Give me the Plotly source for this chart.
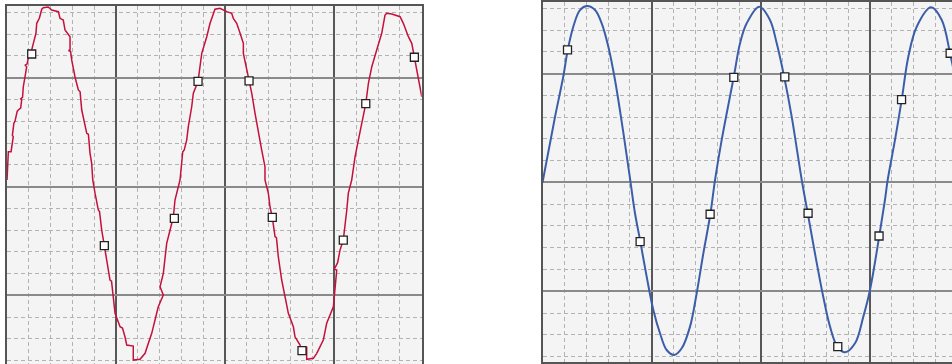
import plotly.graph_objects as go

# ---- data ----
# noisy measured signal (left panel)
red_t = [0.003, 0.012, 0.015, 0.040, 0.060, 0.052, 0.066, 0.076, 0.096, 0.106, 0.128, 0.137, 0.128, 0.145,
         0.152, 0.168, 0.183, 0.170, 0.186, 0.198, 0.229, 0.244, 0.268, 0.275, 0.299, 0.321, 0.335, 0.380,
         0.412, 0.473, 0.488, 0.518, 0.534, 0.580, 0.580, 0.566, 0.585, 0.595, 0.625, 0.656, 0.672, 0.687,
         0.733, 0.748, 0.763, 0.778, 0.788, 0.809, 0.839, 0.850, 0.870, 0.894, 0.916, 0.946, 0.960, 0.976,
         0.992, 1.038, 1.060, 1.083, 1.099, 1.159, 1.159, 1.221, 1.267, 1.297, 1.328, 1.358, 1.388, 1.434,
         1.404, 1.434, 1.450, 1.465, 1.496, 1.526, 1.541, 1.587, 1.612, 1.625, 1.648, 1.663, 1.694, 1.709,
         1.752, 1.770, 1.786, 1.832, 1.862, 1.907, 1.952, 2.015, 2.060, 2.075, 2.106, 2.137, 2.167, 2.167,
         2.198, 2.219, 2.244, 2.274, 2.304, 2.335, 2.365, 2.365, 2.396, 2.411, 2.432, 2.457, 2.470, 2.487,
         2.518, 2.548, 2.579, 2.625, 2.640, 2.686, 2.704, 2.747, 2.747, 2.808, 2.839, 2.899, 2.930,
         2.991, 3.006, 3.022, 3.000, 3.030, 3.052, 3.082, 3.114, 3.128, 3.159, 3.190, 3.220, 3.251,
         3.288, 3.312, 3.343, 3.388, 3.434, 3.464, 3.480, 3.526, 3.602, 3.632, 3.678, 3.709, 3.733,
         3.755, 3.786, 3.801]
red_v = [0.060, 0.200, 0.320, 0.320, 0.458, 0.470, 0.584, 0.600, 0.690, 0.703, 0.720, 0.795, 0.806, 0.820,
         0.917, 1.009, 1.101, 1.115, 1.125, 1.178, 1.255, 1.316, 1.408, 1.500, 1.546, 1.629, 1.643, 1.650,
         1.622, 1.607, 1.546, 1.530, 1.438, 1.377, 1.255, 1.250, 1.240, 1.163, 1.009, 0.887, 0.870, 0.703,
         0.489, 0.480, 0.305, 0.213, 0.060, -0.063, -0.216, -0.230, -0.400, -0.544, -0.676, -0.859, -0.870,
         -1.013, -1.165, -1.289, -1.300, -1.381, -1.457, -1.466, -1.595, -1.588, -1.533, -1.441, -1.349,
         -1.227, -1.105, -0.997, -0.921, -0.798, -0.645, -0.522, -0.400, -0.278, -0.124, 0.060, 0.320,
         0.335, 0.427, 0.550, 0.733, 0.857, 0.967, 1.101, 1.224, 1.377, 1.500, 1.629, 1.638, 1.607, 1.592,
         1.546, 1.500, 1.408, 1.316, 1.224, 1.071, 0.970, 0.857, 0.673, 0.489, 0.335, 0.182, 0.060, -0.063,
         -0.186, -0.283, -0.461, -0.470, -0.645, -0.859, -1.013, -1.165, -1.289, -1.381, -1.457, -1.509,
         -1.472, -1.588, -1.579, -1.533, -1.411, -1.257, -1.105, -0.951, -0.767, -0.760, -0.700,
         -0.584, -0.492, -0.216, -0.063, 0.060, 0.274, 0.427, 0.581, 0.761, 0.949, 1.101, 1.255,
         1.408, 1.576, 1.592, 1.585, 1.561, 1.500, 1.377, 1.316, 1.188, 1.101, 0.917, 0.825]

# clean signal (right panel)
blue_t = [0.000, 0.114, 0.190, 0.231, 0.282, 0.343, 0.410, 0.481, 0.542, 0.603, 0.664, 0.740, 0.801,
          0.847, 0.896, 0.954, 1.015, 1.076, 1.137, 1.207, 1.275, 1.351, 1.412, 1.473, 1.537, 1.580,
          1.641, 1.751, 1.809, 1.870, 1.985, 2.083, 2.145, 2.214, 2.282, 2.374, 2.429, 2.495, 2.571,
          2.633, 2.700, 2.770, 2.862, 2.938, 2.999, 3.084, 3.136, 3.161, 3.228, 3.289, 3.350, 3.427,
          3.558, 3.656, 3.732, 3.800]
blue_v = [0.000, 0.600, 0.972, 1.218, 1.432, 1.585, 1.622, 1.585, 1.463, 1.248, 0.942, 0.460, 0.040,
          -0.283, -0.544, -0.866, -1.172, -1.386, -1.540, -1.585, -1.524, -1.325, -1.018, -0.651,
          -0.292, 0.023, 0.391, 0.967, 1.280, 1.463, 1.616, 1.494, 1.279, 0.967, 0.605, 0.023,
          -0.283, -0.651, -1.050, -1.325, -1.509, -1.561, -1.478, -1.233, -0.988, -0.492, -0.161,
          0.023, 0.391, 0.758, 1.156, 1.432, 1.610, 1.494, 1.188, 0.850]

# sampled points (both panels)
mk_t = [0.229, 0.894, 1.535, 1.752, 2.219, 2.432, 2.704, 3.082, 3.288, 3.733]
mk_v = [1.218, -0.544, -0.292, 0.967, 0.970, -0.283, -1.509, -0.492, 0.761, 1.188]

assert len(red_t) == len(red_v) and len(blue_t) == len(blue_v)

W, H = 952, 364
BG = "#f4f4f4"
BORDER = "#555555"
VMAJ = "#575757"
HMAJ = "#8a8a8a"
MINOR = "#b3b3b3"

fig = go.Figure()
fig.add_trace(go.Scatter(x=red_t, y=red_v, mode="lines", line=dict(color="#c4103c", width=1.5),
                         xaxis="x", yaxis="y", hoverinfo="skip"))
fig.add_trace(go.Scatter(x=mk_t, y=mk_v, mode="markers",
                         marker=dict(symbol="square", size=8, color="white",
                                     line=dict(color="#222222", width=1.3)),
                         xaxis="x", yaxis="y"))
fig.add_trace(go.Scatter(x=blue_t, y=blue_v, mode="lines",
                         line=dict(color="#3c5ea8", width=2, shape="spline", smoothing=1),
                         xaxis="x2", yaxis="y2", hoverinfo="skip"))
fig.add_trace(go.Scatter(x=mk_t, y=mk_v, mode="markers",
                         marker=dict(symbol="square", size=8, color="white",
                                     line=dict(color="#222222", width=1.3)),
                         xaxis="x2", yaxis="y2"))

minor_x = dict(dtick=0.2, tick0=0, showgrid=True, gridcolor=MINOR, griddash="4px,3px", gridwidth=1, ticks="")
minor_y = dict(dtick=0.2, tick0=0, showgrid=True, gridcolor=MINOR, griddash="4px,3px", gridwidth=1, ticks="")

common_x = dict(dtick=1, tick0=0, showgrid=True, gridcolor=VMAJ, gridwidth=2, zeroline=False,
                showticklabels=False, ticks="", fixedrange=True)
common_y = dict(dtick=1, tick0=0, showgrid=True, gridcolor=HMAJ, gridwidth=2, zeroline=False,
                showticklabels=False, ticks="", fixedrange=True)

fig.update_layout(
    width=W, height=H, margin=dict(l=0, r=0, t=0, b=0),
    paper_bgcolor="white", plot_bgcolor=BG, showlegend=False,
    xaxis=dict(domain=[6.7 / W, 421.7 / W], range=[0, 3.8], minor=minor_x, anchor="y",
               side="top", showline=True, linecolor=BORDER, linewidth=2, mirror=False, **common_x),
    yaxis=dict(domain=[0, 1 - 6 / H], range=[-1.631, 1.659], minor=minor_y, anchor="x",
               showline=True, linecolor=BORDER, linewidth=2, mirror=True, **common_y),
    xaxis2=dict(domain=[542.5 / W, 1], range=[0, 3.75], minor=minor_x, anchor="y2",
                showline=True, linecolor=BORDER, linewidth=2, mirror=True, **common_x),
    yaxis2=dict(domain=[1.7 / H, 1 - 2 / H], range=[-1.653, 1.659], minor=minor_y, anchor="x2",
                showline=True, linecolor=BORDER, linewidth=2, mirror=False, **common_y),
)

fig.write_html("out.html")
